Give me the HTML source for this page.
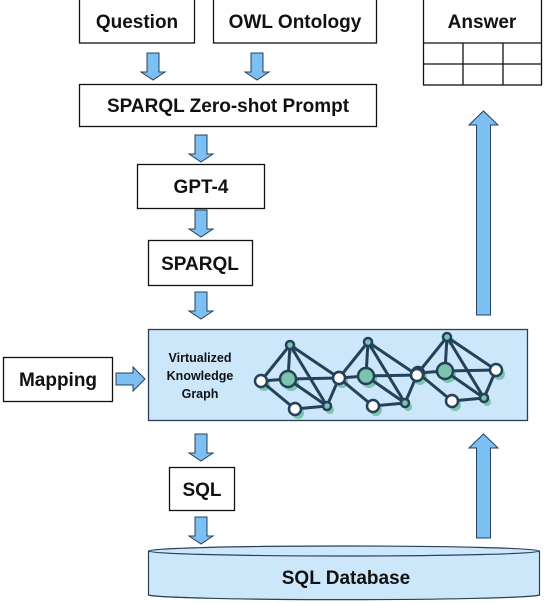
<!DOCTYPE html>
<html><head><meta charset="utf-8"><style>
html,body{margin:0;padding:0;background:#fff;}
svg{display:block}
text{font-family:"Liberation Sans",sans-serif;font-weight:bold;fill:#111;}
</style></head><body>
<svg width="548" height="603" viewBox="0 0 548 603" xmlns="http://www.w3.org/2000/svg">
<defs>
<g id="da"><path d="M-6,0 H6 V19 H12 L0,27 L-12,19 H-6 Z" fill="#7cbff2" stroke="#2a3f5a" stroke-width="1"/></g>
</defs>
<!-- boxes -->
<g fill="#fff" stroke="#111" stroke-width="1.3">
<rect x="79.5" y="-1" width="115" height="44"/>
<rect x="213.5" y="-1" width="163" height="44"/>
<rect x="79.5" y="84.5" width="297" height="42"/>
<rect x="137.5" y="164.5" width="127" height="44"/>
<rect x="148.5" y="240.5" width="104" height="45"/>
<rect x="3.5" y="357.5" width="109" height="44"/>
<rect x="169.5" y="467.5" width="65" height="43"/>
<rect x="423.5" y="-1" width="118" height="86"/>
</g>
<g stroke="#111" stroke-width="1.3">
<line x1="423" y1="43" x2="541" y2="43"/>
<line x1="423" y1="64" x2="541" y2="64"/>
<line x1="463" y1="43" x2="463" y2="85"/>
<line x1="503" y1="43" x2="503" y2="85"/>
</g>
<text x="137" y="28" font-size="19" text-anchor="middle">Question</text>
<text x="295" y="28" font-size="19" text-anchor="middle">OWL Ontology</text>
<text x="482" y="28" font-size="19" text-anchor="middle">Answer</text>
<text x="228" y="112" font-size="19" text-anchor="middle">SPARQL Zero-shot Prompt</text>
<text x="201" y="193" font-size="19" text-anchor="middle">GPT-4</text>
<text x="200" y="270" font-size="19" text-anchor="middle">SPARQL</text>
<text x="58" y="386" font-size="19" text-anchor="middle">Mapping</text>
<text x="202" y="496" font-size="19" text-anchor="middle">SQL</text>
<!-- down arrows -->
<use href="#da" x="153" y="53"/>
<use href="#da" x="257" y="53"/>
<use href="#da" x="201" y="135"/>
<use href="#da" x="201" y="210"/>
<use href="#da" x="201" y="292"/>
<use href="#da" x="201" y="434"/>
<use href="#da" x="201" y="517"/>
<!-- right arrow -->
<path d="M116,373 H133 V367 L145,379 L133,391 V385 H116 Z" fill="#7cbff2" stroke="#2a3f5a" stroke-width="1"/>
<!-- up arrows -->
<path d="M476.5,315 V125 H469 L483.5,111 L498,125 H490.5 V315 Z" fill="#7cbff2" stroke="#2a3f5a" stroke-width="1"/>
<path d="M476.5,538 V448 H469 L483.5,434 L498,448 H490.5 V538 Z" fill="#7cbff2" stroke="#2a3f5a" stroke-width="1"/>
<!-- VKG -->
<rect x="148.5" y="329.5" width="379" height="91" fill="#cce6fa" stroke="#2a3f5a" stroke-width="1.3"/>
<text x="200" y="362" font-size="12.5" text-anchor="middle">Virtualized</text>
<text x="200" y="380" font-size="12.5" text-anchor="middle">Knowledge</text>
<text x="200" y="398" font-size="12.5" text-anchor="middle">Graph</text>
<g id="cl">
<g fill="#7cc4ad">
<circle cx="264" cy="385" r="6"/><circle cx="291" cy="383" r="8"/><circle cx="298" cy="413" r="6"/><circle cx="330" cy="410" r="4"/><circle cx="293" cy="349" r="4"/><circle cx="342" cy="382" r="6"/>
</g>
<g stroke="#25415a" stroke-width="3" fill="none">
<line x1="261" y1="381" x2="290" y2="345"/><line x1="261" y1="381" x2="288" y2="379"/><line x1="261" y1="381" x2="295" y2="409"/>
<line x1="290" y1="345" x2="288" y2="379"/><line x1="290" y1="345" x2="339" y2="378"/><line x1="290" y1="345" x2="327" y2="406"/>
<line x1="288" y1="379" x2="339" y2="378"/><line x1="288" y1="379" x2="327" y2="406"/>
<line x1="295" y1="409" x2="327" y2="406"/><line x1="327" y1="406" x2="339" y2="378"/>
</g>
<g stroke="#25415a" stroke-width="2.5">
<circle cx="290" cy="345" r="4" fill="#7cc4ad"/><circle cx="327" cy="406" r="4" fill="#7cc4ad"/>
<circle cx="288" cy="379" r="8" fill="#7cc4ad"/>
<circle cx="261" cy="381" r="6" fill="#fff"/><circle cx="295" cy="409" r="6" fill="#fff"/><circle cx="339" cy="378" r="6" fill="#fff"/>
</g>
</g>
<use href="#cl" x="78" y="-3"/>
<use href="#cl" x="157" y="-8"/>
<circle cx="339" cy="378" r="6" fill="#fff" stroke="#25415a" stroke-width="2.5"/>
<circle cx="417" cy="375" r="6" fill="#fff" stroke="#25415a" stroke-width="2.5"/>
<!-- cylinder -->
<path d="M148.5,551 V595 A196,5 0 0 0 539.5,595 V551" fill="#cce6fa" stroke="#2a3f5a" stroke-width="1.2"/>
<ellipse cx="344" cy="551" rx="195.5" ry="5" fill="#cce6fa" stroke="#2a3f5a" stroke-width="1.2"/>
<text x="346" y="584" font-size="19" text-anchor="middle">SQL Database</text>
</svg>
</body></html>
